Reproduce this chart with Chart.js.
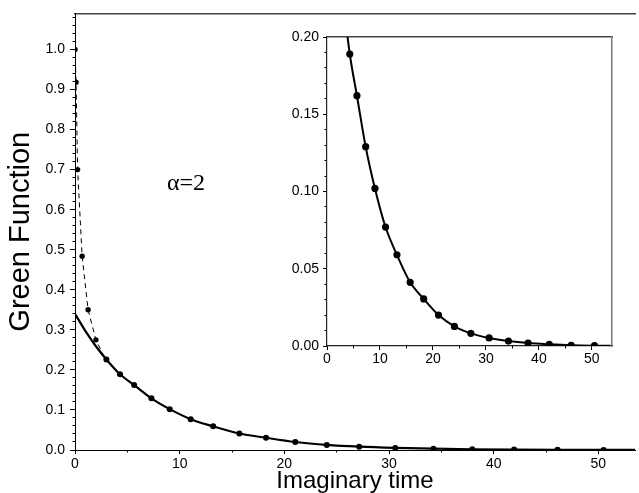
<!DOCTYPE html>
<html><head><meta charset="utf-8">
<script src="https://cdn.jsdelivr.net/npm/chart.js@4.4.1/dist/chart.umd.min.js"></script>
<style>
html,body{margin:0;padding:0;background:#fff;}
#wrap{position:relative;width:639px;height:493px;overflow:hidden;background:#fff;}
#main{position:absolute;left:0;top:0;}
#inset{position:absolute;left:270px;top:20px;}
#alpha{position:absolute;left:167px;top:170px;font-size:24px;font-family:"Liberation Serif","Times New Roman",serif;line-height:1;color:#000;white-space:nowrap;}
</style></head><body>
<div id="wrap">
<canvas id="main" width="639" height="493"></canvas>
<canvas id="inset" width="350" height="350"></canvas>
<div id="alpha">α=2</div>
</div>
<script>
// ---- data ----
const earlyX = [0, 0.1, 0.25, 0.68, 1.25, 2.0];
const earlyY = [1.0, 0.918, 0.70, 0.484, 0.35, 0.275];
const dashJoinX = [2.8];
const dashJoinY = [0.232];
const curveHeadX = [0, 1, 2];
const curveHeadY = [0.340, 0.297, 0.259];
const markerX = [3.0, 4.3, 5.65, 7.3, 9.05, 11.05, 13.2, 15.7, 18.25, 21.05, 24.05, 27.15, 30.6, 34.25, 37.95, 41.95, 46.1, 50.5];
const markerY = [0.226, 0.189, 0.162, 0.129, 0.102, 0.077, 0.059, 0.0412, 0.0305, 0.0200, 0.0127, 0.0082, 0.0052, 0.0032, 0.0019, 0.0011, 0.0005, 0.0002];
const curveTailX = [53.5];
const curveTailY = [0.0001];

const mainXTicks = [0, 10, 20, 30, 40, 50];
const mainXMinor = [5, 15, 25, 35, 45];
const mainYTicks = [0, 0.1, 0.2, 0.3, 0.4, 0.5, 0.6, 0.7, 0.8, 0.9, 1.0];
const insetXTicks = [0, 10, 20, 30, 40, 50];
const insetXMinor = [5, 15, 25, 35, 45];
const insetYTicks = [0, 0.05, 0.10, 0.15, 0.20];

const mainYMinor = [];
for (let i = 1; i <= 54; i++) if (i % 5) mainYMinor.push(+(i * 0.02).toFixed(2));
const insetYMinor = [];
for (let i = 1; i < 20; i++) if (i % 5) insetYMinor.push(+(i * 0.01).toFixed(2));

// ---- helpers ----
const zip = (xs, ys) => xs.map((x, i) => ({x: x, y: ys[i]}));
const setTicks = vals => scale => { scale.ticks = vals.map(v => ({value: v})); };
const SANS = "'Liberation Sans', Arial, Helvetica, sans-serif";
Chart.defaults.font.family = SANS;
Chart.defaults.color = '#000';

const dashData = zip(earlyX.concat(dashJoinX), earlyY.concat(dashJoinY));
const curveData = zip(curveHeadX.concat(markerX, curveTailX), curveHeadY.concat(markerY, curveTailY));
const markerData = zip(markerX, markerY);

const MAIN_XMAX = 53.5, MAIN_YMAX = 1.09;
const TICK_FONT = { size: 14 };

new Chart(document.getElementById('main'), {
  type: 'scatter',
  data: { datasets: [
    { data: dashData, showLine: true, borderColor: '#000', borderWidth: 1, borderDash: [5, 4],
      pointRadius: c => c.dataIndex < earlyX.length ? 2.7 : 0, pointBackgroundColor: '#000', pointBorderWidth: 0 },
    { data: curveData, showLine: true, borderColor: '#000', borderWidth: 2.2, pointRadius: 0,
      cubicInterpolationMode: 'monotone' },
    { data: markerData, showLine: false, pointRadius: 3, pointBackgroundColor: '#000', pointBorderWidth: 0 }
  ]},
  options: {
    responsive: false, animation: false, events: [],
    layout: { padding: { top: 9, right: 0, left: 0, bottom: 0 } },
    plugins: { legend: { display: false }, tooltip: { enabled: false } },
    scales: {
      x: { type: 'linear', axis: 'x', position: 'bottom', min: 0, max: MAIN_XMAX,
        afterBuildTicks: setTicks(mainXTicks), afterFit: s => { s.height = 43; },
        grid: { drawOnChartArea: false, tickLength: 4, tickColor: '#000', tickWidth: 1 },
        border: { color: '#000', width: 1 },
        ticks: { padding: 2, font: TICK_FONT, color: '#000', autoSkip: false, maxRotation: 0, callback: v => String(v) },
        title: { display: true, text: 'Imaginary time', color: '#000', font: { size: 24, lineHeight: 1 }, padding: 0 } },
      xMinor: { type: 'linear', axis: 'x', position: { y: 0 }, min: 0, max: MAIN_XMAX,
        afterBuildTicks: setTicks(mainXMinor),
        grid: { drawOnChartArea: false, tickLength: 2.5, tickColor: '#000' },
        border: { display: false }, ticks: { display: false } },
      xTop: { type: 'linear', axis: 'x', position: 'top', min: 0, max: MAIN_XMAX,
        afterFit: s => { s.height = 0; },
        grid: { display: false, drawTicks: false }, border: { color: '#444', width: 1.5 },
        ticks: { display: false } },
      y: { type: 'linear', axis: 'y', position: 'left', min: 0, max: MAIN_YMAX,
        afterBuildTicks: setTicks(mainYTicks), afterFit: s => { s.width = 75; },
        grid: { drawOnChartArea: false, tickLength: 5, tickColor: '#000' },
        border: { color: '#000', width: 1 },
        ticks: { padding: 5, font: TICK_FONT, color: '#000', autoSkip: false, callback: v => v.toFixed(1) },
        title: { display: true, text: 'Green Function', color: '#000', font: { size: 29, lineHeight: 1.2 }, padding: { top: 4, bottom: 0 } } },
      yMinor: { type: 'linear', axis: 'y', position: { x: 0 }, min: 0, max: MAIN_YMAX,
        afterBuildTicks: setTicks(mainYMinor),
        grid: { drawOnChartArea: false, tickLength: 2.5, tickColor: '#000' },
        border: { display: false }, ticks: { display: false } }
    }
  }
});

const INSET_XMAX = 53.8, INSET_YMAX = 0.20;
new Chart(document.getElementById('inset'), {
  type: 'scatter',
  data: { datasets: [
    { data: curveData, showLine: true, borderColor: '#000', borderWidth: 2, pointRadius: 0,
      cubicInterpolationMode: 'monotone' },
    { data: markerData, showLine: false, pointRadius: 3.6, pointBackgroundColor: '#000', pointBorderWidth: 0 }
  ]},
  options: {
    responsive: false, animation: false, events: [],
    layout: { padding: { top: 17, right: 8, left: 0, bottom: 0 } },
    plugins: { legend: { display: false }, tooltip: { enabled: false } },
    scales: {
      x: { type: 'linear', axis: 'x', position: 'bottom', min: 0, max: INSET_XMAX,
        afterBuildTicks: setTicks(insetXTicks), afterFit: s => { s.height = 24; },
        grid: { drawOnChartArea: false, tickLength: 4, tickColor: '#000' },
        border: { color: '#222', width: 1.2 },
        ticks: { padding: 1, font: TICK_FONT, color: '#000', autoSkip: false, maxRotation: 0, callback: v => String(v) } },
      xMinor: { type: 'linear', axis: 'x', position: { y: 0 }, min: 0, max: INSET_XMAX,
        afterBuildTicks: setTicks(insetXMinor),
        grid: { drawOnChartArea: false, tickLength: 2.5, tickColor: '#000' },
        border: { display: false }, ticks: { display: false } },
      xTop: { type: 'linear', axis: 'x', position: 'top', min: 0, max: INSET_XMAX,
        afterFit: s => { s.height = 0; },
        grid: { display: false, drawTicks: false }, border: { color: '#444', width: 1.5 },
        ticks: { display: false } },
      y: { type: 'linear', axis: 'y', position: 'left', min: 0, max: INSET_YMAX,
        afterBuildTicks: setTicks(insetYTicks), afterFit: s => { s.width = 57; },
        grid: { drawOnChartArea: false, tickLength: 4, tickColor: '#000' },
        border: { color: '#222', width: 1.2 },
        ticks: { padding: 4, font: TICK_FONT, color: '#000', autoSkip: false, callback: v => v.toFixed(2) } },
      yMinor: { type: 'linear', axis: 'y', position: { x: 0 }, min: 0, max: INSET_YMAX,
        afterBuildTicks: setTicks(insetYMinor),
        grid: { drawOnChartArea: false, tickLength: 2.5, tickColor: '#000' },
        border: { display: false }, ticks: { display: false } },
      yRight: { type: 'linear', axis: 'y', position: 'right', min: 0, max: INSET_YMAX,
        afterFit: s => { s.width = 0; },
        grid: { display: false, drawTicks: false }, border: { color: '#777', width: 1.5 },
        ticks: { display: false } }
    }
  }
});
</script>
</body></html>
